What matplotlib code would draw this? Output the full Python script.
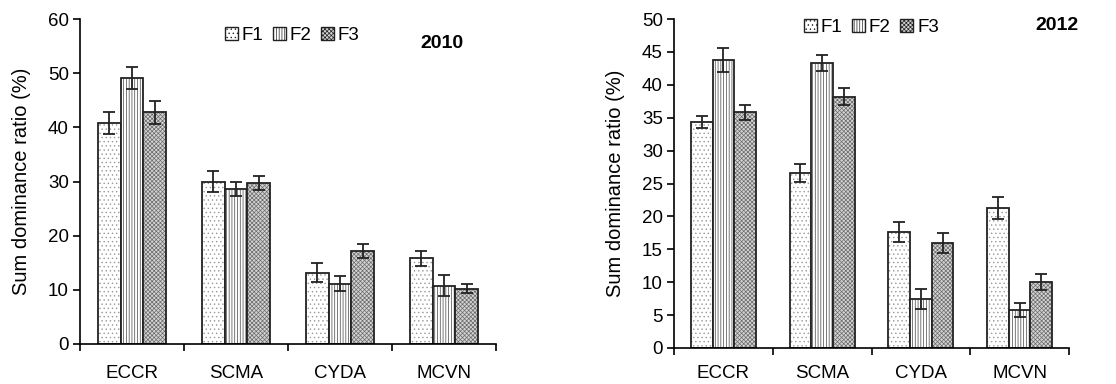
import numpy as np
import matplotlib.pyplot as plt
from matplotlib.patches import Patch

plt.rcParams['font.family'] = ['Liberation Sans', 'DejaVu Sans']
plt.rcParams['hatch.linewidth'] = 0.5

cats = ['ECCR', 'SCMA', 'CYDA', 'MCVN']
series = ['F1', 'F2', 'F3']

# 2010
v2010 = {'F1': [40.8, 30.0, 13.2, 15.8],
         'F2': [49.1, 28.6, 11.1, 10.8],
         'F3': [42.8, 29.7, 17.2, 10.2]}
e2010 = {'F1': [2.05, 1.85, 1.8, 1.35],
         'F2': [2.0, 1.25, 1.4, 1.95],
         'F3': [2.1, 1.35, 1.25, 0.85]}

# 2012
v2012 = {'F1': [34.4, 26.6, 17.6, 21.3],
         'F2': [43.8, 43.3, 7.5, 5.8],
         'F3': [35.8, 38.2, 16.0, 10.0]}
e2012 = {'F1': [0.9, 1.3, 1.5, 1.65],
         'F2': [1.8, 1.2, 1.5, 1.1],
         'F3': [1.2, 1.25, 1.55, 1.25]}

styles = {'F1': dict(facecolor='white', hatch='....', edgecolor='#999999'),
          'F2': dict(facecolor='white', hatch='||||||', edgecolor='#444444'),
          'F3': dict(facecolor='#d4d4d4', hatch='xxxxxxxx', edgecolor='#6a6a6a')}

fig = plt.figure(figsize=(11.16, 3.84), dpi=100)
ax1 = fig.add_axes([80/1116, 1-344/384, 416/1116, 325/384])
ax2 = fig.add_axes([674/1116, 1-348/384, 395/1116, 329/384])

w = 0.22
x = np.arange(len(cats)) + 0.5


def draw(ax, vals, errs, ymax, ystep, year, yx, yy, legx, legy, xpad):
    for i, s in enumerate(series):
        st = styles[s]
        pos = x + (i - 1) * w
        # hatched fill
        ax.bar(pos, vals[s], w, color=st['facecolor'], hatch=st['hatch'],
               edgecolor=st['edgecolor'], linewidth=0)
        # black outline
        ax.bar(pos, vals[s], w, fill=False, edgecolor='#222222', linewidth=1.3)
        ax.errorbar(pos, vals[s], yerr=errs[s], fmt='none', ecolor='#222222',
                    elinewidth=1.3, capsize=4, capthick=1.3)
    ax.set_xlim(0, 4)
    ax.set_ylim(0, ymax)
    ax.set_yticks(np.arange(0, ymax + 1, ystep))
    ax.set_xticks(np.arange(0, 5))
    ax.set_xticklabels([])
    ax.set_xticks(x, minor=True)
    ax.set_xticklabels(cats, minor=True)
    ax.tick_params(axis='x', which='minor', length=0, pad=xpad, labelsize=13.5)
    ax.tick_params(axis='x', which='major', length=5, width=1.2, direction='out')
    ax.tick_params(axis='y', length=5, width=1.2, labelsize=13.5, pad=3)
    for sp in ['top', 'right']:
        ax.spines[sp].set_visible(False)
    for sp in ['left', 'bottom']:
        ax.spines[sp].set_linewidth(1.2)
    ax.set_ylabel('Sum dominance ratio (%)', fontsize=14.5, labelpad=12)
    ax.text(yx, yy, year, transform=ax.transAxes, fontsize=14,
            fontweight='bold', ha='center', va='center')
    handles = [Patch(facecolor=styles[s]['facecolor'], hatch=styles[s]['hatch'],
                     edgecolor='#222222', linewidth=1.0) for s in series]
    ax.legend(handles, series, ncol=3, frameon=False, fontsize=13.5,
              loc='center', bbox_to_anchor=(legx, legy),
              handlelength=0.7, handleheight=0.7, handletextpad=0.2,
              columnspacing=0.5)


draw(ax1, v2010, e2010, 60, 10, '2010', 0.87, 0.926, 0.51, 0.95, 15)
draw(ax2, v2012, e2012, 50, 5, '2012', 0.97, 0.98, 0.50, 0.975, 12)

fig.savefig('out.png', dpi=100)
